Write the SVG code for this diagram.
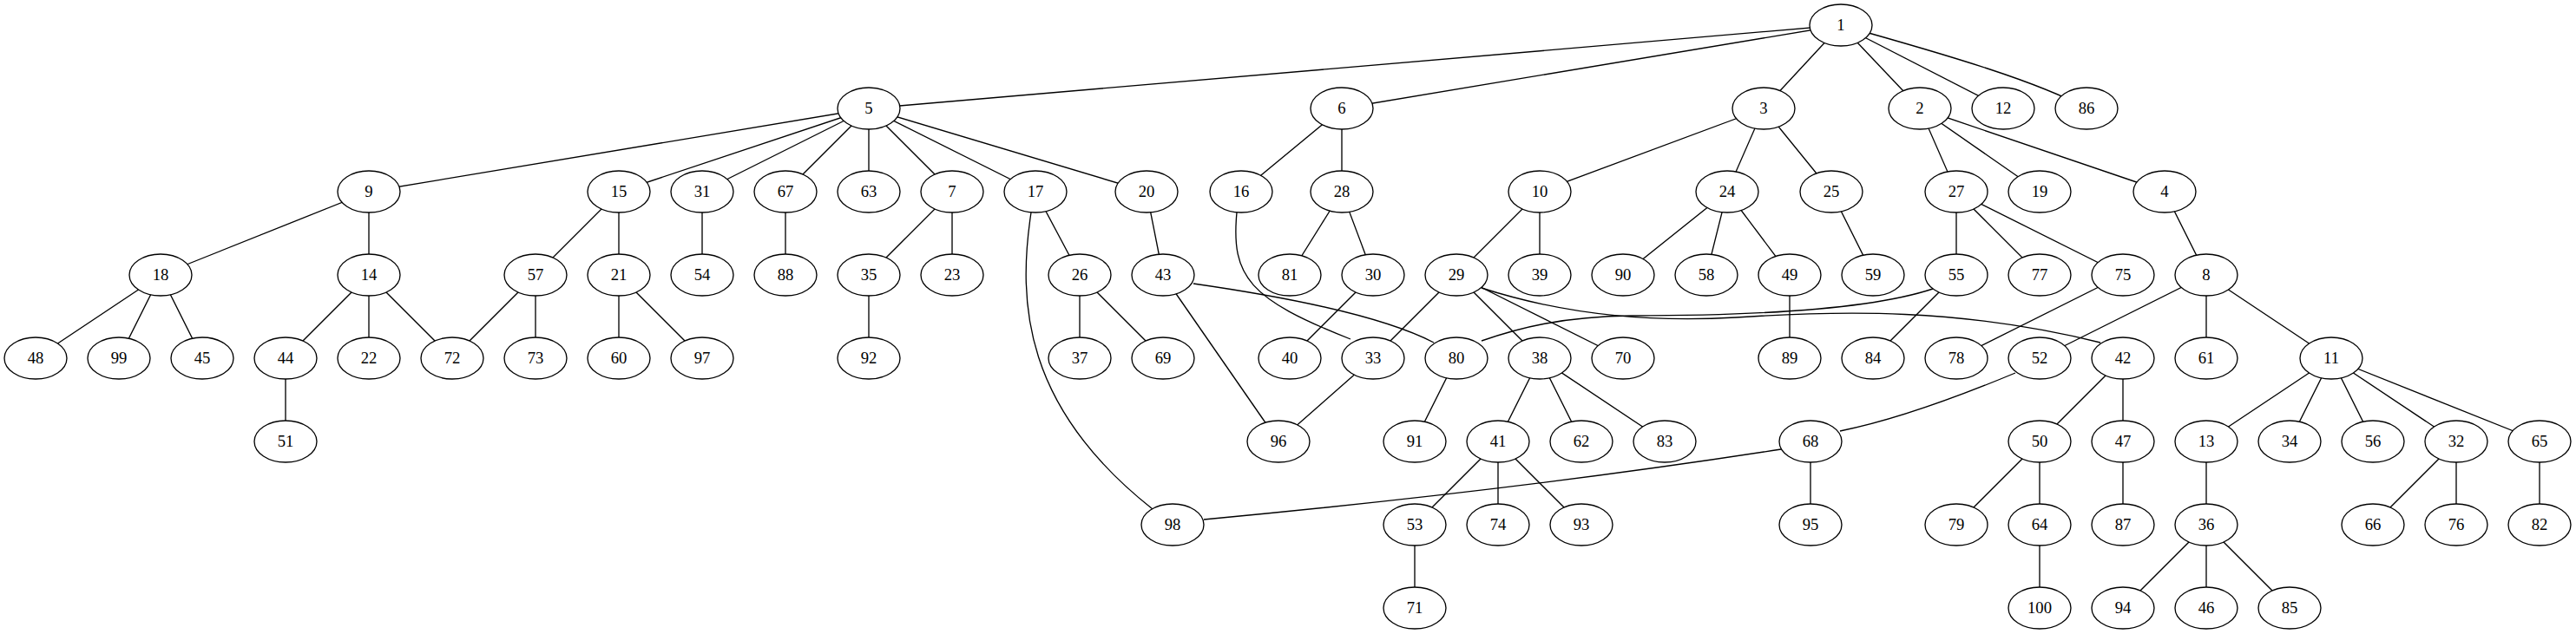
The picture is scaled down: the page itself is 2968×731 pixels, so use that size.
<svg xmlns="http://www.w3.org/2000/svg" width="2968" height="731" viewBox="0 0 2968 731">
<style>
.e line,.e path{stroke:#000;stroke-width:1.33;fill:none}
.n ellipse{fill:#fff;stroke:#000;stroke-width:1.33}
.n text{font-family:"Liberation Serif","Times New Roman",serif;font-size:18.67px;text-anchor:middle;fill:#000}
</style>
<rect width="2968" height="731" fill="#fff"/>
<g id="edges" class="e">
<line x1="2121" y1="29" x2="1001" y2="125"/>
<line x1="2121" y1="29" x2="1546" y2="125"/>
<line x1="2121" y1="29" x2="2032" y2="125"/>
<line x1="2121" y1="29" x2="2212" y2="125"/>
<line x1="2121" y1="29" x2="2308" y2="125"/>
<path d="M2121,29 C2250,65 2350,95 2404,125"/>
<line x1="1001" y1="125" x2="425" y2="221"/>
<line x1="1001" y1="125" x2="713" y2="221"/>
<line x1="1001" y1="125" x2="809" y2="221"/>
<line x1="1001" y1="125" x2="905" y2="221"/>
<line x1="1001" y1="125" x2="1001" y2="221"/>
<line x1="1001" y1="125" x2="1097" y2="221"/>
<line x1="1001" y1="125" x2="1193" y2="221"/>
<line x1="1001" y1="125" x2="1321" y2="221"/>
<line x1="1546" y1="125" x2="1430" y2="221"/>
<line x1="1546" y1="125" x2="1546" y2="221"/>
<line x1="2032" y1="125" x2="1774" y2="221"/>
<line x1="2032" y1="125" x2="1990" y2="221"/>
<line x1="2032" y1="125" x2="2110" y2="221"/>
<line x1="2212" y1="125" x2="2254" y2="221"/>
<line x1="2212" y1="125" x2="2350" y2="221"/>
<line x1="2212" y1="125" x2="2494" y2="221"/>
<line x1="425" y1="221" x2="185" y2="317"/>
<line x1="425" y1="221" x2="425" y2="317"/>
<line x1="713" y1="221" x2="617" y2="317"/>
<line x1="713" y1="221" x2="713" y2="317"/>
<line x1="809" y1="221" x2="809" y2="317"/>
<line x1="905" y1="221" x2="905" y2="317"/>
<line x1="1097" y1="221" x2="1001" y2="317"/>
<line x1="1097" y1="221" x2="1097" y2="317"/>
<line x1="1193" y1="221" x2="1244" y2="317"/>
<path d="M1188,245 C1172,350 1180,470 1328,587"/>
<line x1="1321" y1="221" x2="1340" y2="317"/>
<path d="M1425,245 C1418,320 1440,345 1556,391"/>
<line x1="1546" y1="221" x2="1486" y2="317"/>
<line x1="1546" y1="221" x2="1582" y2="317"/>
<line x1="1774" y1="221" x2="1678" y2="317"/>
<line x1="1774" y1="221" x2="1774" y2="317"/>
<line x1="1990" y1="221" x2="1870" y2="317"/>
<line x1="1990" y1="221" x2="1966" y2="317"/>
<line x1="1990" y1="221" x2="2062" y2="317"/>
<line x1="2110" y1="221" x2="2158" y2="317"/>
<line x1="2254" y1="221" x2="2254" y2="317"/>
<line x1="2254" y1="221" x2="2350" y2="317"/>
<line x1="2254" y1="221" x2="2446" y2="317"/>
<line x1="2494" y1="221" x2="2542" y2="317"/>
<line x1="185" y1="317" x2="41" y2="413"/>
<line x1="185" y1="317" x2="137" y2="413"/>
<line x1="185" y1="317" x2="233" y2="413"/>
<line x1="425" y1="317" x2="329" y2="413"/>
<line x1="425" y1="317" x2="425" y2="413"/>
<line x1="425" y1="317" x2="521" y2="413"/>
<line x1="617" y1="317" x2="521" y2="413"/>
<line x1="617" y1="317" x2="617" y2="413"/>
<line x1="713" y1="317" x2="713" y2="413"/>
<line x1="713" y1="317" x2="809" y2="413"/>
<line x1="1001" y1="317" x2="1001" y2="413"/>
<line x1="1244" y1="317" x2="1244" y2="413"/>
<line x1="1244" y1="317" x2="1340" y2="413"/>
<path d="M1375,327 C1500,345 1600,368 1652,395"/>
<line x1="1340" y1="317" x2="1473" y2="509"/>
<line x1="1582" y1="317" x2="1486" y2="413"/>
<line x1="1678" y1="317" x2="1582" y2="413"/>
<line x1="1678" y1="317" x2="1774" y2="413"/>
<line x1="1678" y1="317" x2="1870" y2="413"/>
<path d="M1707,332 C1800,362 1900,372 2000,366 C2120,358 2260,355 2420,395"/>
<line x1="2062" y1="317" x2="2062" y2="413"/>
<path d="M2227,333 C2140,362 1960,364 1880,364 C1800,365 1750,378 1707,393"/>
<line x1="2254" y1="317" x2="2158" y2="413"/>
<line x1="2446" y1="317" x2="2254" y2="413"/>
<line x1="2542" y1="317" x2="2350" y2="413"/>
<line x1="2542" y1="317" x2="2542" y2="413"/>
<line x1="2542" y1="317" x2="2686" y2="413"/>
<line x1="329" y1="413" x2="329" y2="509"/>
<line x1="1582" y1="413" x2="1473" y2="509"/>
<line x1="1678" y1="413" x2="1630" y2="509"/>
<line x1="1774" y1="413" x2="1726" y2="509"/>
<line x1="1774" y1="413" x2="1822" y2="509"/>
<line x1="1774" y1="413" x2="1918" y2="509"/>
<path d="M2322,430 C2250,460 2180,485 2120,497"/>
<line x1="2446" y1="413" x2="2350" y2="509"/>
<line x1="2446" y1="413" x2="2446" y2="509"/>
<line x1="2686" y1="413" x2="2542" y2="509"/>
<line x1="2686" y1="413" x2="2638" y2="509"/>
<line x1="2686" y1="413" x2="2734" y2="509"/>
<line x1="2686" y1="413" x2="2830" y2="509"/>
<line x1="2686" y1="413" x2="2926" y2="509"/>
<line x1="1726" y1="509" x2="1630" y2="605"/>
<line x1="1726" y1="509" x2="1726" y2="605"/>
<line x1="1726" y1="509" x2="1822" y2="605"/>
<path d="M2052,518 Q1750,565 1387,599"/>
<line x1="2086" y1="509" x2="2086" y2="605"/>
<line x1="2350" y1="509" x2="2254" y2="605"/>
<line x1="2350" y1="509" x2="2350" y2="605"/>
<line x1="2446" y1="509" x2="2446" y2="605"/>
<line x1="2542" y1="509" x2="2542" y2="605"/>
<line x1="2830" y1="509" x2="2734" y2="605"/>
<line x1="2830" y1="509" x2="2830" y2="605"/>
<line x1="2926" y1="509" x2="2926" y2="605"/>
<line x1="1630" y1="605" x2="1630" y2="701"/>
<line x1="2350" y1="605" x2="2350" y2="701"/>
<line x1="2542" y1="605" x2="2446" y2="701"/>
<line x1="2542" y1="605" x2="2542" y2="701"/>
<line x1="2542" y1="605" x2="2638" y2="701"/>
</g>
<g id="node1" class="n"><ellipse cx="2121" cy="29" rx="36" ry="24"/><text x="2121" y="35">1</text></g>
<g id="node5" class="n"><ellipse cx="1001" cy="125" rx="36" ry="24"/><text x="1001" y="131">5</text></g>
<g id="node6" class="n"><ellipse cx="1546" cy="125" rx="36" ry="24"/><text x="1546" y="131">6</text></g>
<g id="node3" class="n"><ellipse cx="2032" cy="125" rx="36" ry="24"/><text x="2032" y="131">3</text></g>
<g id="node2" class="n"><ellipse cx="2212" cy="125" rx="36" ry="24"/><text x="2212" y="131">2</text></g>
<g id="node12" class="n"><ellipse cx="2308" cy="125" rx="36" ry="24"/><text x="2308" y="131">12</text></g>
<g id="node86" class="n"><ellipse cx="2404" cy="125" rx="36" ry="24"/><text x="2404" y="131">86</text></g>
<g id="node9" class="n"><ellipse cx="425" cy="221" rx="36" ry="24"/><text x="425" y="227">9</text></g>
<g id="node15" class="n"><ellipse cx="713" cy="221" rx="36" ry="24"/><text x="713" y="227">15</text></g>
<g id="node31" class="n"><ellipse cx="809" cy="221" rx="36" ry="24"/><text x="809" y="227">31</text></g>
<g id="node67" class="n"><ellipse cx="905" cy="221" rx="36" ry="24"/><text x="905" y="227">67</text></g>
<g id="node63" class="n"><ellipse cx="1001" cy="221" rx="36" ry="24"/><text x="1001" y="227">63</text></g>
<g id="node7" class="n"><ellipse cx="1097" cy="221" rx="36" ry="24"/><text x="1097" y="227">7</text></g>
<g id="node17" class="n"><ellipse cx="1193" cy="221" rx="36" ry="24"/><text x="1193" y="227">17</text></g>
<g id="node20" class="n"><ellipse cx="1321" cy="221" rx="36" ry="24"/><text x="1321" y="227">20</text></g>
<g id="node16" class="n"><ellipse cx="1430" cy="221" rx="36" ry="24"/><text x="1430" y="227">16</text></g>
<g id="node28" class="n"><ellipse cx="1546" cy="221" rx="36" ry="24"/><text x="1546" y="227">28</text></g>
<g id="node10" class="n"><ellipse cx="1774" cy="221" rx="36" ry="24"/><text x="1774" y="227">10</text></g>
<g id="node24" class="n"><ellipse cx="1990" cy="221" rx="36" ry="24"/><text x="1990" y="227">24</text></g>
<g id="node25" class="n"><ellipse cx="2110" cy="221" rx="36" ry="24"/><text x="2110" y="227">25</text></g>
<g id="node27" class="n"><ellipse cx="2254" cy="221" rx="36" ry="24"/><text x="2254" y="227">27</text></g>
<g id="node19" class="n"><ellipse cx="2350" cy="221" rx="36" ry="24"/><text x="2350" y="227">19</text></g>
<g id="node4" class="n"><ellipse cx="2494" cy="221" rx="36" ry="24"/><text x="2494" y="227">4</text></g>
<g id="node18" class="n"><ellipse cx="185" cy="317" rx="36" ry="24"/><text x="185" y="323">18</text></g>
<g id="node14" class="n"><ellipse cx="425" cy="317" rx="36" ry="24"/><text x="425" y="323">14</text></g>
<g id="node57" class="n"><ellipse cx="617" cy="317" rx="36" ry="24"/><text x="617" y="323">57</text></g>
<g id="node21" class="n"><ellipse cx="713" cy="317" rx="36" ry="24"/><text x="713" y="323">21</text></g>
<g id="node54" class="n"><ellipse cx="809" cy="317" rx="36" ry="24"/><text x="809" y="323">54</text></g>
<g id="node88" class="n"><ellipse cx="905" cy="317" rx="36" ry="24"/><text x="905" y="323">88</text></g>
<g id="node35" class="n"><ellipse cx="1001" cy="317" rx="36" ry="24"/><text x="1001" y="323">35</text></g>
<g id="node23" class="n"><ellipse cx="1097" cy="317" rx="36" ry="24"/><text x="1097" y="323">23</text></g>
<g id="node26" class="n"><ellipse cx="1244" cy="317" rx="36" ry="24"/><text x="1244" y="323">26</text></g>
<g id="node43" class="n"><ellipse cx="1340" cy="317" rx="36" ry="24"/><text x="1340" y="323">43</text></g>
<g id="node81" class="n"><ellipse cx="1486" cy="317" rx="36" ry="24"/><text x="1486" y="323">81</text></g>
<g id="node30" class="n"><ellipse cx="1582" cy="317" rx="36" ry="24"/><text x="1582" y="323">30</text></g>
<g id="node29" class="n"><ellipse cx="1678" cy="317" rx="36" ry="24"/><text x="1678" y="323">29</text></g>
<g id="node39" class="n"><ellipse cx="1774" cy="317" rx="36" ry="24"/><text x="1774" y="323">39</text></g>
<g id="node90" class="n"><ellipse cx="1870" cy="317" rx="36" ry="24"/><text x="1870" y="323">90</text></g>
<g id="node58" class="n"><ellipse cx="1966" cy="317" rx="36" ry="24"/><text x="1966" y="323">58</text></g>
<g id="node49" class="n"><ellipse cx="2062" cy="317" rx="36" ry="24"/><text x="2062" y="323">49</text></g>
<g id="node59" class="n"><ellipse cx="2158" cy="317" rx="36" ry="24"/><text x="2158" y="323">59</text></g>
<g id="node55" class="n"><ellipse cx="2254" cy="317" rx="36" ry="24"/><text x="2254" y="323">55</text></g>
<g id="node77" class="n"><ellipse cx="2350" cy="317" rx="36" ry="24"/><text x="2350" y="323">77</text></g>
<g id="node75" class="n"><ellipse cx="2446" cy="317" rx="36" ry="24"/><text x="2446" y="323">75</text></g>
<g id="node8" class="n"><ellipse cx="2542" cy="317" rx="36" ry="24"/><text x="2542" y="323">8</text></g>
<g id="node48" class="n"><ellipse cx="41" cy="413" rx="36" ry="24"/><text x="41" y="419">48</text></g>
<g id="node99" class="n"><ellipse cx="137" cy="413" rx="36" ry="24"/><text x="137" y="419">99</text></g>
<g id="node45" class="n"><ellipse cx="233" cy="413" rx="36" ry="24"/><text x="233" y="419">45</text></g>
<g id="node44" class="n"><ellipse cx="329" cy="413" rx="36" ry="24"/><text x="329" y="419">44</text></g>
<g id="node22" class="n"><ellipse cx="425" cy="413" rx="36" ry="24"/><text x="425" y="419">22</text></g>
<g id="node72" class="n"><ellipse cx="521" cy="413" rx="36" ry="24"/><text x="521" y="419">72</text></g>
<g id="node73" class="n"><ellipse cx="617" cy="413" rx="36" ry="24"/><text x="617" y="419">73</text></g>
<g id="node60" class="n"><ellipse cx="713" cy="413" rx="36" ry="24"/><text x="713" y="419">60</text></g>
<g id="node97" class="n"><ellipse cx="809" cy="413" rx="36" ry="24"/><text x="809" y="419">97</text></g>
<g id="node92" class="n"><ellipse cx="1001" cy="413" rx="36" ry="24"/><text x="1001" y="419">92</text></g>
<g id="node37" class="n"><ellipse cx="1244" cy="413" rx="36" ry="24"/><text x="1244" y="419">37</text></g>
<g id="node69" class="n"><ellipse cx="1340" cy="413" rx="36" ry="24"/><text x="1340" y="419">69</text></g>
<g id="node40" class="n"><ellipse cx="1486" cy="413" rx="36" ry="24"/><text x="1486" y="419">40</text></g>
<g id="node33" class="n"><ellipse cx="1582" cy="413" rx="36" ry="24"/><text x="1582" y="419">33</text></g>
<g id="node80" class="n"><ellipse cx="1678" cy="413" rx="36" ry="24"/><text x="1678" y="419">80</text></g>
<g id="node38" class="n"><ellipse cx="1774" cy="413" rx="36" ry="24"/><text x="1774" y="419">38</text></g>
<g id="node70" class="n"><ellipse cx="1870" cy="413" rx="36" ry="24"/><text x="1870" y="419">70</text></g>
<g id="node89" class="n"><ellipse cx="2062" cy="413" rx="36" ry="24"/><text x="2062" y="419">89</text></g>
<g id="node84" class="n"><ellipse cx="2158" cy="413" rx="36" ry="24"/><text x="2158" y="419">84</text></g>
<g id="node78" class="n"><ellipse cx="2254" cy="413" rx="36" ry="24"/><text x="2254" y="419">78</text></g>
<g id="node52" class="n"><ellipse cx="2350" cy="413" rx="36" ry="24"/><text x="2350" y="419">52</text></g>
<g id="node42" class="n"><ellipse cx="2446" cy="413" rx="36" ry="24"/><text x="2446" y="419">42</text></g>
<g id="node61" class="n"><ellipse cx="2542" cy="413" rx="36" ry="24"/><text x="2542" y="419">61</text></g>
<g id="node11" class="n"><ellipse cx="2686" cy="413" rx="36" ry="24"/><text x="2686" y="419">11</text></g>
<g id="node51" class="n"><ellipse cx="329" cy="509" rx="36" ry="24"/><text x="329" y="515">51</text></g>
<g id="node96" class="n"><ellipse cx="1473" cy="509" rx="36" ry="24"/><text x="1473" y="515">96</text></g>
<g id="node91" class="n"><ellipse cx="1630" cy="509" rx="36" ry="24"/><text x="1630" y="515">91</text></g>
<g id="node41" class="n"><ellipse cx="1726" cy="509" rx="36" ry="24"/><text x="1726" y="515">41</text></g>
<g id="node62" class="n"><ellipse cx="1822" cy="509" rx="36" ry="24"/><text x="1822" y="515">62</text></g>
<g id="node83" class="n"><ellipse cx="1918" cy="509" rx="36" ry="24"/><text x="1918" y="515">83</text></g>
<g id="node68" class="n"><ellipse cx="2086" cy="509" rx="36" ry="24"/><text x="2086" y="515">68</text></g>
<g id="node50" class="n"><ellipse cx="2350" cy="509" rx="36" ry="24"/><text x="2350" y="515">50</text></g>
<g id="node47" class="n"><ellipse cx="2446" cy="509" rx="36" ry="24"/><text x="2446" y="515">47</text></g>
<g id="node13" class="n"><ellipse cx="2542" cy="509" rx="36" ry="24"/><text x="2542" y="515">13</text></g>
<g id="node34" class="n"><ellipse cx="2638" cy="509" rx="36" ry="24"/><text x="2638" y="515">34</text></g>
<g id="node56" class="n"><ellipse cx="2734" cy="509" rx="36" ry="24"/><text x="2734" y="515">56</text></g>
<g id="node32" class="n"><ellipse cx="2830" cy="509" rx="36" ry="24"/><text x="2830" y="515">32</text></g>
<g id="node65" class="n"><ellipse cx="2926" cy="509" rx="36" ry="24"/><text x="2926" y="515">65</text></g>
<g id="node98" class="n"><ellipse cx="1351" cy="605" rx="36" ry="24"/><text x="1351" y="611">98</text></g>
<g id="node53" class="n"><ellipse cx="1630" cy="605" rx="36" ry="24"/><text x="1630" y="611">53</text></g>
<g id="node74" class="n"><ellipse cx="1726" cy="605" rx="36" ry="24"/><text x="1726" y="611">74</text></g>
<g id="node93" class="n"><ellipse cx="1822" cy="605" rx="36" ry="24"/><text x="1822" y="611">93</text></g>
<g id="node95" class="n"><ellipse cx="2086" cy="605" rx="36" ry="24"/><text x="2086" y="611">95</text></g>
<g id="node79" class="n"><ellipse cx="2254" cy="605" rx="36" ry="24"/><text x="2254" y="611">79</text></g>
<g id="node64" class="n"><ellipse cx="2350" cy="605" rx="36" ry="24"/><text x="2350" y="611">64</text></g>
<g id="node87" class="n"><ellipse cx="2446" cy="605" rx="36" ry="24"/><text x="2446" y="611">87</text></g>
<g id="node36" class="n"><ellipse cx="2542" cy="605" rx="36" ry="24"/><text x="2542" y="611">36</text></g>
<g id="node66" class="n"><ellipse cx="2734" cy="605" rx="36" ry="24"/><text x="2734" y="611">66</text></g>
<g id="node76" class="n"><ellipse cx="2830" cy="605" rx="36" ry="24"/><text x="2830" y="611">76</text></g>
<g id="node82" class="n"><ellipse cx="2926" cy="605" rx="36" ry="24"/><text x="2926" y="611">82</text></g>
<g id="node71" class="n"><ellipse cx="1630" cy="701" rx="36" ry="24"/><text x="1630" y="707">71</text></g>
<g id="node100" class="n"><ellipse cx="2350" cy="701" rx="36" ry="24"/><text x="2350" y="707">100</text></g>
<g id="node94" class="n"><ellipse cx="2446" cy="701" rx="36" ry="24"/><text x="2446" y="707">94</text></g>
<g id="node46" class="n"><ellipse cx="2542" cy="701" rx="36" ry="24"/><text x="2542" y="707">46</text></g>
<g id="node85" class="n"><ellipse cx="2638" cy="701" rx="36" ry="24"/><text x="2638" y="707">85</text></g>
</svg>
